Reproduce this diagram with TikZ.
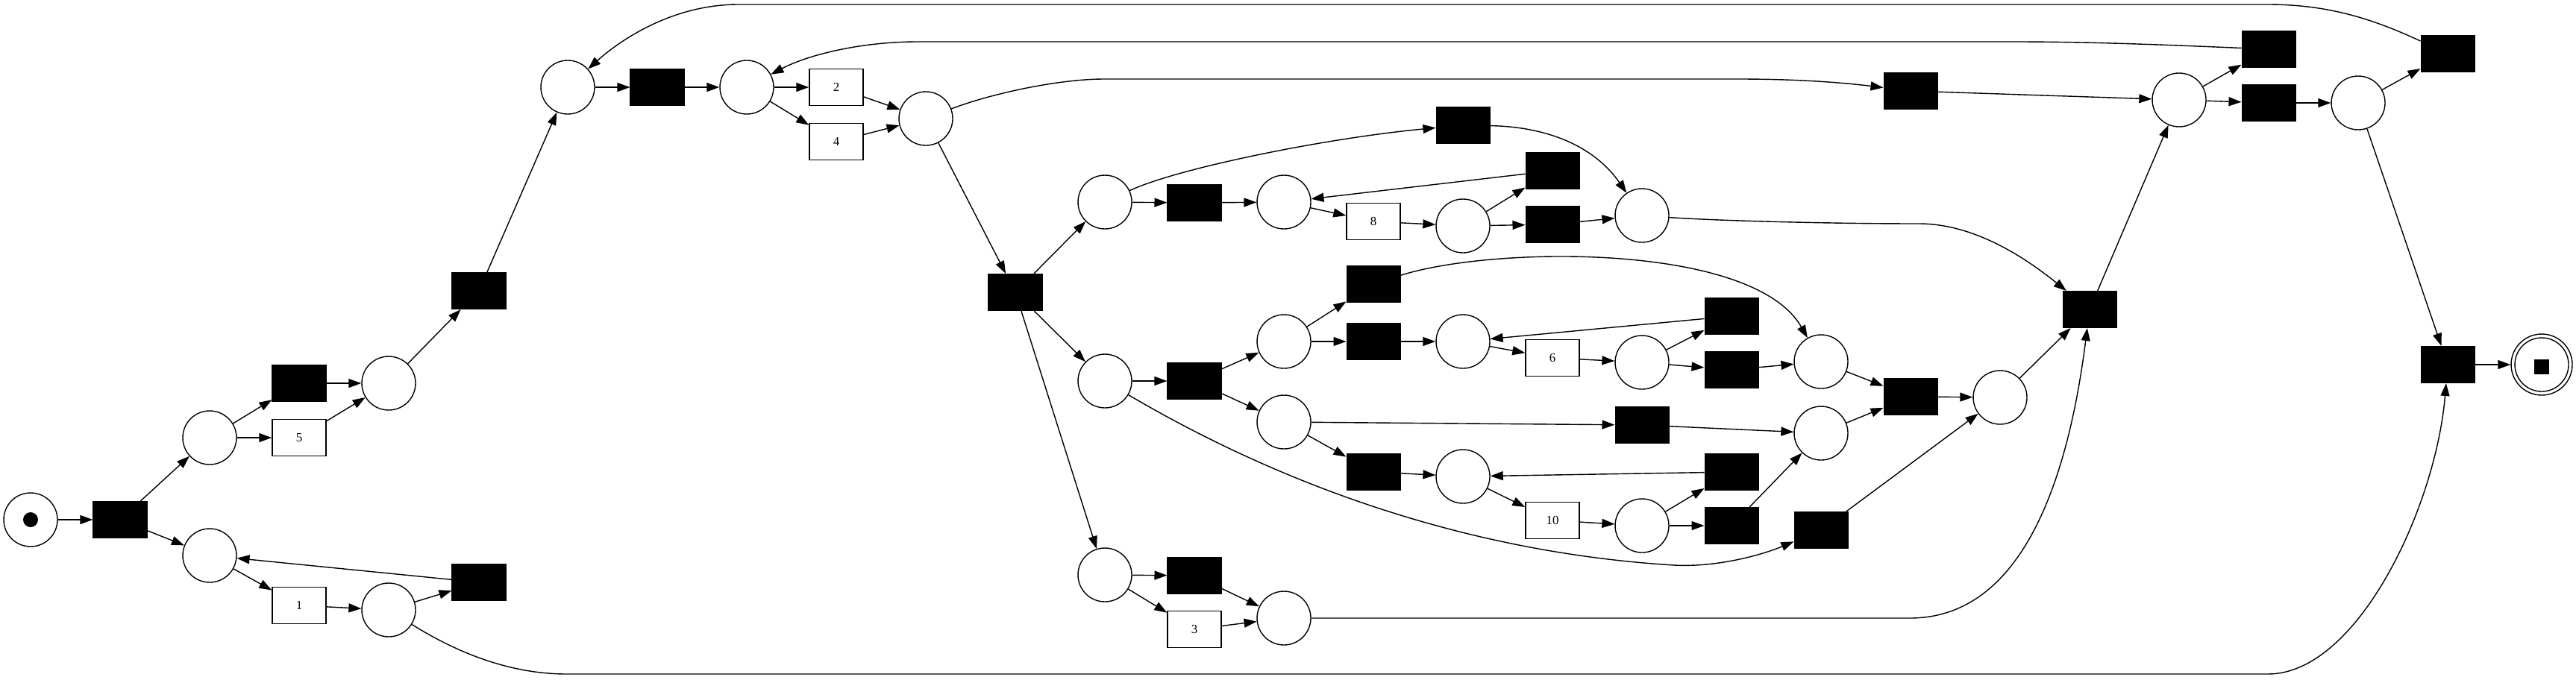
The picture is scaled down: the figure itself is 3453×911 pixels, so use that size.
\documentclass[tikz,border=0pt]{standalone}
\usepackage{fontspec}
\setmainfont{Liberation Serif}
\usetikzlibrary{arrows.meta}
\begin{document}
\begin{tikzpicture}[x=0.1mm,y=-0.1mm,
  place/.style={circle,draw,line width=0.4pt,minimum size=7.2mm,inner sep=0pt},
  trans/.style={rectangle,fill=black,draw=black,line width=0.3pt,minimum width=7.2mm,minimum height=4.9mm,inner sep=0pt},
  lbox/.style={rectangle,fill=white,draw=black,line width=0.4pt,minimum width=7.2mm,minimum height=4.9mm,inner sep=0pt,font=\fontsize{4.8}{5}\selectfont},
  edgeA/.style={line width=0.4pt,-{Triangle[length=1.7mm,width=1.2mm]}}]
\useasboundingbox (0,0) rectangle (3453,911);
% places
\node[place] (start) at (41,697) {};
\fill (start.center) circle (10);
\node[place] (p1) at (281,587) {};
\node[place] (p2) at (281,745) {};
\node[place] (p3) at (521,514) {};
\node[place] (p4) at (521,818) {};
\node[place] (p5) at (761,117) {};
\node[place] (p6) at (1001,117) {};
\node[place] (p7) at (1241,159) {};
\node[place] (p8) at (1481,271) {};
\node[place] (p9) at (1721,271) {};
\node[place] (p10) at (1961,303) {};
\node[place] (p11) at (2201,289) {};
\node[place] (p12) at (1481,511) {};
\node[place] (p13) at (1721,458) {};
\node[place] (p14) at (1961,458) {};
\node[place] (p15) at (2201,486) {};
\node[place] (p16) at (1721,566) {};
\node[place] (p17) at (1961,639) {};
\node[place] (p18) at (2201,705) {};
\node[place] (p19) at (1481,771) {};
\node[place] (p20) at (1721,829) {};
\node[place] (p21) at (2921,134) {};
\node[place] (p22) at (3161,138) {};
\node[place] (p23) at (2441,485) {};
\node[place] (p24) at (2441,581) {};
\node[place] (p25) at (2681,533) {};
\node[place,minimum size=8.2mm] (pend) at (3407,489) {};
\node[place] (pendin) at (3407,489) {};
\node[fill=black,minimum size=2mm,inner sep=0pt] (endtok) at (3407,492) {};
% transitions
\node[trans] (ta) at (161,697) {};
\node[trans] (t5b) at (401,514) {};
\node[lbox] (t5) at (401,587) {5};
\node[lbox] (t1) at (401,812) {1};
\node[trans] (tb4) at (642,781) {};
\node[trans] (tup) at (642,390) {};
\node[trans] (tt) at (881,117) {};
\node[lbox] (t2) at (1121,117) {2};
\node[lbox] (t4) at (1121,190) {4};
\node[trans] (tbig) at (1361,392) {};
\node[trans] (tc) at (1601,272) {};
\node[lbox] (t8) at (1841,297) {8};
\node[trans] (t8top) at (1961,168) {};
\node[trans] (td) at (2081,229) {};
\node[trans] (te) at (2081,301) {};
\node[trans] (tf) at (1601,511) {};
\node[trans] (tg) at (1841,381) {};
\node[trans] (th) at (1841,458) {};
\node[lbox] (t6) at (2081,480) {6};
\node[trans] (ti) at (2321,424) {};
\node[trans] (tj) at (2321,496) {};
\node[trans] (tk) at (2201,570) {};
\node[trans] (tl) at (1841,633) {};
\node[lbox] (t10) at (2081,698) {10};
\node[trans] (tm) at (2321,633) {};
\node[trans] (tn) at (2321,705) {};
\node[trans] (tp) at (1601,772) {};
\node[lbox] (t3) at (1601,844) {3};
\node[trans] (to) at (2561,532) {};
\node[trans] (tq) at (2441,711) {};
\node[trans] (tmid) at (2801,415) {};
\node[trans] (ta1) at (2561,122) {};
\node[trans] (tr2) at (3041,66) {};
\node[trans] (tr3) at (3041,138) {};
\node[trans] (ttr) at (3281,72) {};
\node[trans] (tfin) at (3281,489) {};
% straight arcs
\foreach \a/\b in {start/ta,ta/p1,ta/p2,p1/t5b,p1/t5,t5b/p3,t5/p3,p2/t1,t1/p4,p4/tb4,tb4/p2,
  p3/tup,tup/p5,p5/tt,tt/p6,p6/t2,p6/t4,t2/p7,t4/p7,p7/tbig,tbig/p8,tbig/p12,tbig/p19,
  p8/tc,tc/p9,p9/t8,t8/p10,p10/td,td/p9,p10/te,te/p11,
  p12/tf,tf/p13,tf/p16,p13/tg,p13/th,th/p14,p14/t6,t6/p15,p15/ti,ti/p14,p15/tj,tj/p23,
  p16/tk,tk/p24,p16/tl,tl/p17,p17/t10,t10/p18,p18/tm,tm/p17,p18/tn,tn/p24,
  p23/to,p24/to,to/p25,tq/p25,p25/tmid,tmid/p21,ta1/p21,p21/tr2,p21/tr3,tr3/p22,
  p22/ttr,p22/tfin,tfin/pend,p19/tp,tp/p20,p19/t3,t3/p20}
  \draw[edgeA] (\a) -- (\b);
% curved arcs
\draw[edgeA] (ttr) .. controls (3180,25) and (3120,6) .. (3040,6) -- (990,6) .. controls (900,6) and (830,55) .. (p5);
\draw[edgeA] (tr2) .. controls (2900,60) and (2800,56) .. (2700,56) -- (1230,56) .. controls (1150,56) and (1080,75) .. (p6);
\draw[edgeA] (p7) .. controls (1330,125) and (1420,106) .. (1480,106) -- (2330,106) .. controls (2420,106) and (2480,112) .. (ta1);
\draw[edgeA] (p11) .. controls (2300,296) and (2450,300) .. (2572,300) .. controls (2650,300) and (2720,350) .. (tmid);
\draw[edgeA] (p8) .. controls (1580,225) and (1780,185) .. (t8top);
\draw[edgeA] (t8top) .. controls (2080,170) and (2140,200) .. (p11);
\draw[edgeA] (tg) .. controls (2000,330) and (2350,325) .. (p23);
\draw[edgeA] (p12) .. controls (1700,640) and (1950,740) .. (2244,758) .. controls (2300,761) and (2360,745) .. (tq);
\draw[edgeA] (p20) -- (2560,829) .. controls (2720,829) and (2775,620) .. (tmid);
\draw[edgeA] (p4) .. controls (620,880) and (690,904) .. (760,904) -- (3040,904) .. controls (3160,904) and (3265,680) .. (tfin);
\end{tikzpicture}
\end{document}
